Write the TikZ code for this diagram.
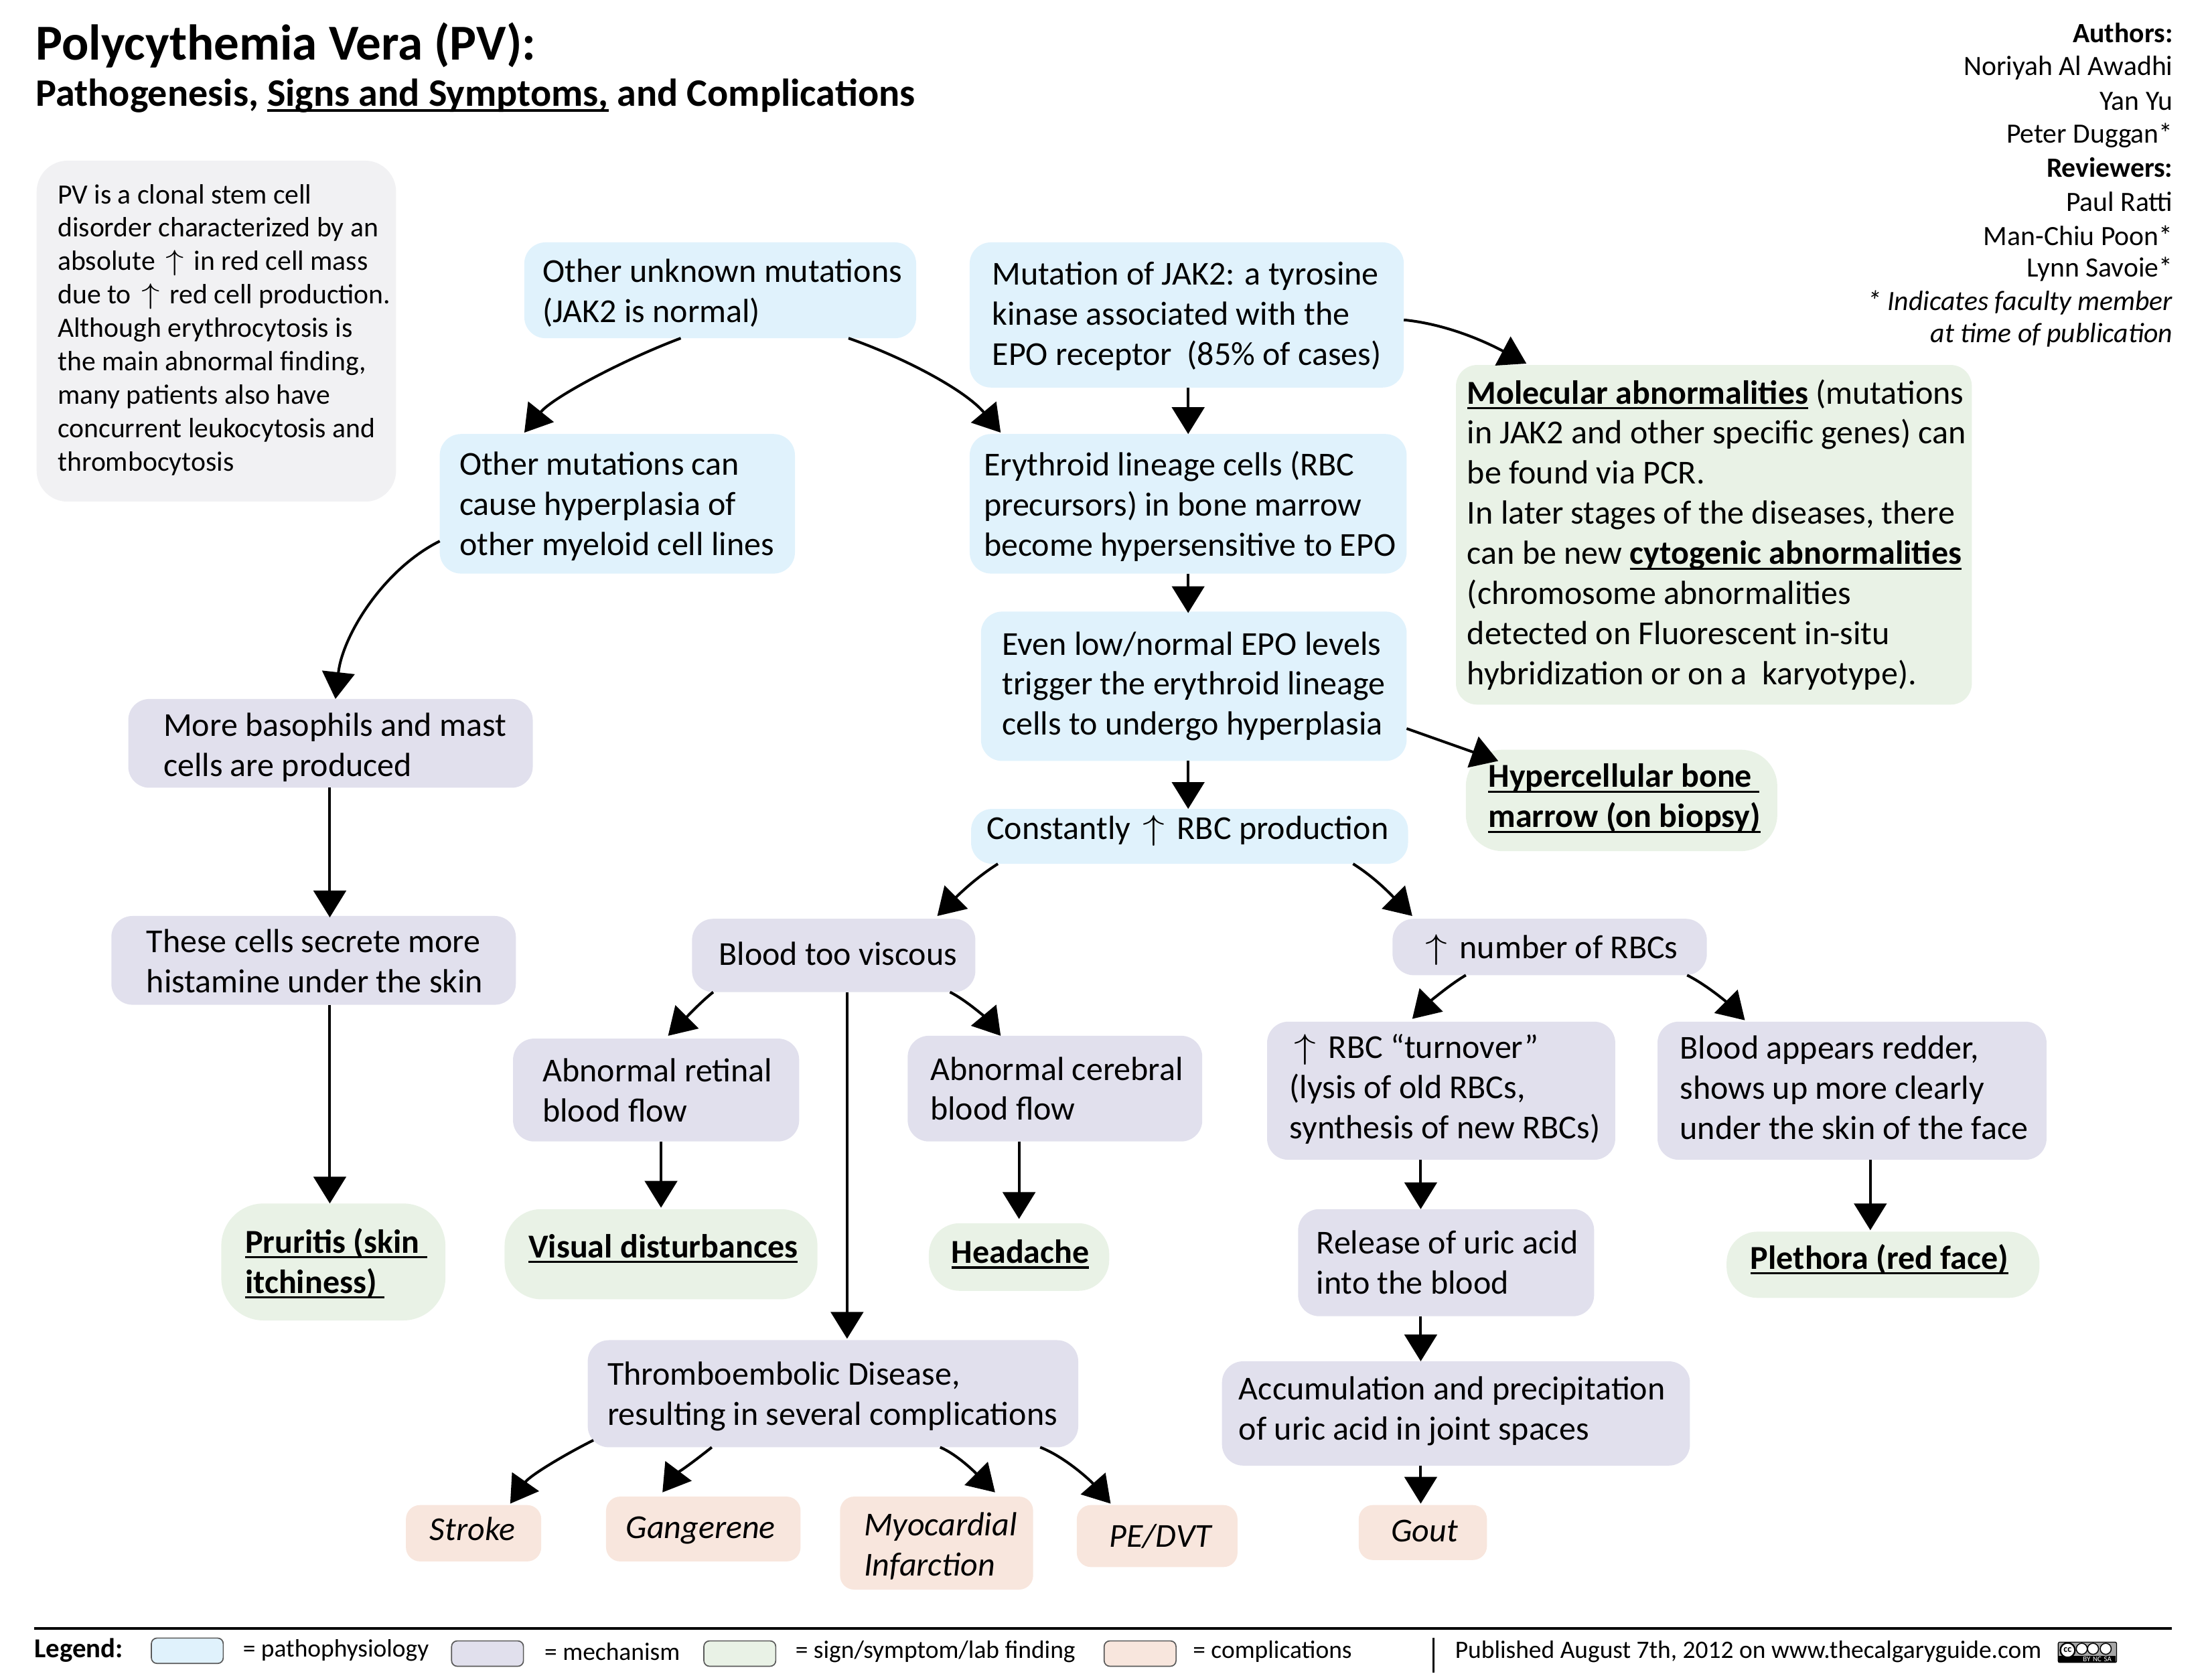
\documentclass[tikz,border=0pt]{standalone}
\usepackage{fontspec}
\setmainfont{Carlito}
\usetikzlibrary{arrows.meta,calc}
\definecolor{pblue}{HTML}{E0F2FC}
\definecolor{ppurple}{HTML}{E1E0ED}
\definecolor{pgreen}{HTML}{E9F2E6}
\definecolor{ppink}{HTML}{F8E6DD}
\definecolor{pgrey}{HTML}{F1F1F3}
\newcommand{\up}{\hspace{0.14em}\scalebox{1.3}[1.02]{\(\uparrow\)}\hspace{0.14em}}
\newsavebox{\ulbox}
\newcommand{\ub}[1]{\sbox{\ulbox}{\textbf{#1}}\leavevmode\rlap{\rule[-1.9pt]{\wd\ulbox}{0.75pt}}\usebox{\ulbox}}
\newcommand{\tup}[1]{\par\vspace*{#1pt}}
\newcommand{\tdn}[1]{\vspace*{#1pt}}
\newcommand{\bx}[8]{% name x0 y0 x1 y1 textx style text
  \pgfmathsetlengthmacro{\bw}{(#4-#2)*0.5pt}%
  \pgfmathsetlengthmacro{\bh}{(#5-#3)*0.5pt}%
  \pgfmathsetlengthmacro{\bp}{(#6-#2)*0.5pt}%
  \pgfmathsetlengthmacro{\bt}{(#4-#6)*0.5pt}%
  \node[anchor=north west,draw=none,inner ysep=0pt,inner xsep=0pt,outer sep=0pt,
    minimum width=\bw,minimum height=\bh,#7] (#1) at (#2,#3)
    {\hspace*{\bp}\makebox[\bt][l]{\begin{minipage}[c]{\dimexpr\bt+40pt\relax}\raggedright #8\end{minipage}}};}
\tikzset{
  x=0.5pt,y=-0.5pt,
  main/.style={rounded corners=7.5pt,font=\fontsize{11.88}{14.25}\selectfont},
  blue/.style={main,fill=pblue},
  purple/.style={main,fill=ppurple},
  green/.style={main,fill=pgreen},
  pink/.style={main,fill=ppink,font=\fontsize{11.88}{14.25}\selectfont\itshape,rounded corners=5pt},
  arr/.style={-{Triangle[length=9.5pt,width=11.5pt]},line width=0.95pt,black},
  auth/.style={anchor=east,inner sep=0pt,font=\fontsize{9.9}{11.85}\selectfont},
  leg/.style={anchor=north west,rounded corners=2pt,draw=black!65,line width=0.4pt,minimum width=25.5pt,minimum height=9pt,inner sep=0pt},
  legt/.style={anchor=west,inner sep=0pt,font=\fontsize{8.9}{10}\selectfont},
}
\begin{document}
\begin{tikzpicture}
\useasboundingbox (0,0) rectangle (1568,1192);
% titles
\node[anchor=west,inner sep=0pt,font=\fontsize{17.85}{20}\selectfont\bfseries] (title) at (25,32) {Polycythemia Vera (PV):};
\node[anchor=west,inner sep=0pt,font=\fontsize{13.8}{16}\selectfont\bfseries] (subtitle) at (25,68) {Pathogenesis, \ub{Signs and Symptoms,} and Complications};
% authors
\node[auth] (a1) at (1542,23.5) {\textbf{Authors:}};
\node[auth] (a2) at (1542,48) {Noriyah Al Awadhi};
\node[auth] (a3) at (1542,72) {Yan Yu};
\node[auth] (a4) at (1542,96) {Peter Duggan*};
\node[auth] (a5) at (1542,119) {\textbf{Reviewers:}};
\node[auth] (a6) at (1542,143) {Paul Ratti};
\node[auth] (a7) at (1542,167) {Man-Chiu Poon*};
\node[auth] (a8) at (1542,191) {Lynn Savoie*};
\node[auth] (a9) at (1542,215) {\textit{* Indicates faculty member}};
\node[auth] (a10) at (1542,238) {\textit{at time of publication}};
% boxes
\bx{pv}{26}{114}{281}{356}{41}{main,fill=pgrey,rounded corners=11pt,font=\fontsize{9.9}{11.85}\selectfont}{PV is a clonal stem cell\\disorder characterized by an\\absolute \up{} in red cell mass\\due to \up{} red cell production.\\Although erythrocytosis is\\the main abnormal finding,\\many patients also have\\concurrent leukocytosis and\\thrombocytosis\tup{1}}
\bx{unk}{372}{172}{650}{240}{385}{blue}{\tdn{2}Other unknown mutations\\(JAK2 is normal)}
\bx{jak}{688}{172}{996}{275}{704}{blue}{\tdn{1}Mutation of JAK2: a tyrosine\\kinase associated with the\\EPO receptor~~(85\% of cases)}
\bx{oth}{312}{308}{564}{407}{326}{blue}{\tdn{2}Other mutations can\\cause hyperplasia of\\other myeloid cell lines}
\bx{ery}{688}{308}{998}{407}{698}{blue}{\tdn{2}Erythroid lineage cells (RBC\\precursors) in bone marrow\\become hypersensitive to EPO}
\bx{eve}{696}{434}{998}{540}{711}{blue}{Even low/normal EPO levels\\trigger the erythroid lineage\\cells to undergo hyperplasia}
\bx{mol}{1033}{259}{1399}{500}{1041}{green}{\ub{Molecular abnormalities} (mutations\\in JAK2 and other specific genes) can\\be found via PCR.\\In later stages of the diseases, there\\can be new \ub{cytogenic abnormalities}\\(chromosome abnormalities\\detected on Fluorescent in-situ\\hybridization or on a~~karyotype).}
\bx{hyp}{1040}{532}{1261}{604}{1056}{green,rounded corners=13pt}{\ub{Hypercellular bone~}\\\ub{marrow (on biopsy)}\tup{1.5}}
\bx{con}{689}{574}{999}{613}{700}{blue}{Constantly \up{} RBC production\tup{4}}
\bx{mor}{91}{496}{378}{559}{116}{purple}{\tdn{3}More basophils and mast\\cells are produced}
\bx{the}{79}{650}{366}{713}{104}{purple}{\tdn{0.5}These cells secrete more\\histamine under the skin}
\bx{pru}{157}{854}{316}{937}{174}{green,rounded corners=15pt}{\tdn{1}\ub{Pruritis (skin~}\\\ub{itchiness)~}}
\bx{blo}{491}{652}{692}{704}{510}{purple}{Blood too viscous\tup{1}}
\bx{num}{988}{652}{1211}{692}{1008}{purple}{\tdn{2}\up{} number of RBCs}
\bx{ret}{364}{737}{567}{810}{385}{purple}{Abnormal retinal\\blood flow}
\bx{cer}{644}{735}{853}{810}{660}{purple}{Abnormal cerebral\\blood flow}
\bx{tur}{899}{725}{1146}{823}{915}{purple}{\up{} RBC “turnover”\\(lysis of old RBCs,\\synthesis of new RBCs)\tup{1}}
\bx{red}{1176}{725}{1452}{823}{1192}{purple}{Blood appears redder,\\shows up more clearly\\under the skin of the face\tup{2}}
\bx{vis}{358}{858}{580}{922}{375}{green,rounded corners=13pt}{\ub{Visual disturbances}\tup{4}}
\bx{hea}{659}{868}{787}{916}{675}{green,rounded corners=11pt}{\ub{Headache}\tup{2}}
\bx{ple}{1225}{874}{1447}{921}{1242}{green,rounded corners=11pt}{\ub{Plethora (red face)}\tup{4}}
\bx{rel}{921}{858}{1131}{934}{934}{purple}{Release of uric acid\\into the blood}
\bx{thr}{417}{951}{765}{1027}{431}{purple}{\tdn{2}Thromboembolic Disease,\\resulting in several complications}
\bx{acc}{867}{966}{1199}{1040}{879}{purple}{Accumulation and precipitation\\of uric acid in joint spaces\tup{1.5}}
\bx{sto}{288}{1068}{384}{1108}{305}{pink}{Stroke\tup{3}}
\bx{gan}{430}{1062}{568}{1108}{444}{pink}{\tdn{1}Gangerene}
\bx{myo}{596}{1062}{733}{1128}{613}{pink}{\tdn{2}Myocardial\\Infarction}
\bx{pe}{764}{1068}{878}{1112}{787}{pink}{PE/DVT}
\bx{gou}{964}{1068}{1055}{1107}{987}{pink}{Gout\tup{1}}
% connectors
\draw[arr] ($(unk.south west)+(111,0)$) .. controls +(-40,15) and +(20,-25) .. ($(oth.north west)+(60,-1)$);
\draw[arr] ($(unk.south west)+(230,0)$) .. controls +(40,14) and +(-25,-30) .. ($(ery.north west)+(22,-1)$);
\draw[arr] ($(jak.south west)+(155,0)$) -- ($(ery.north west)+(155,0)$);
\draw[arr] ($(ery.south west)+(155,0)$) -- ($(eve.north west)+(147,1)$);
\draw[arr] ($(eve.south west)+(147,0)$) -- ($(con.north west)+(154,0)$);
\draw[arr] ($(jak.south east)+(0,-48)$) .. controls +(30,3) and +(-30,-16) .. ($(mol.north west)+(50,-1)$);
\draw[arr] ($(eve.south east)+(0,-23)$) -- ($(hyp.north west)+(23,8)$);
\draw[arr] ($(oth.south west)+(0,-23)$) .. controls +(-40,20) and +(5,-45) .. ($(mor.north west)+(147,0)$);
\draw[arr] ($(mor.south west)+(143,0)$) -- ($(the.north west)+(155,1)$);
\draw[arr] ($(the.south west)+(155,0)$) -- ($(pru.north west)+(77,0)$);
\draw[arr] ($(con.south west)+(19,0)$) .. controls +(-16,10) and +(14,-14) .. ($(blo.north west)+(174,-2)$);
\draw[arr] ($(con.south east)+(-39,0)$) .. controls +(16,10) and +(-14,-14) .. ($(num.north west)+(14,-2)$);
\draw[arr] ($(blo.south west)+(15,0)$) .. controls +(-10,8) and +(10,-10) .. ($(ret.north west)+(110,-2)$);
\draw[arr] ($(blo.south east)+(-18,0)$) .. controls +(12,6) and +(-10,-12) .. ($(cer.north west)+(66,0)$);
\draw[arr] ($(blo.south west)+(110,0)$) -- ($(thr.north west)+(184,-1)$);
\draw[arr] ($(ret.south west)+(105,0)$) -- ($(vis.north west)+(111,-1)$);
\draw[arr] ($(cer.south west)+(79,0)$) -- ($(hea.north west)+(64,-3)$);
\draw[arr] ($(num.south west)+(52,0)$) .. controls +(-12,7) and +(10,-10) .. ($(tur.north west)+(103,-2)$);
\draw[arr] ($(num.south east)+(-14,0)$) .. controls +(14,7) and +(-12,-12) .. ($(red.north west)+(62,-1)$);
\draw[arr] ($(tur.south west)+(109,0)$) -- ($(rel.north west)+(87,0)$);
\draw[arr] ($(rel.south west)+(87,0)$) -- ($(acc.north west)+(141,0)$);
\draw[arr] ($(acc.south west)+(141,0)$) -- ($(gou.north west)+(44,-1)$);
\draw[arr] ($(red.south west)+(151,0)$) -- ($(ple.north west)+(102,-1)$);
\draw[arr] ($(thr.south west)+(4,-5)$) .. controls +(-20,10) and +(14,-20) .. ($(sto.north west)+(74,-1)$);
\draw[arr] ($(thr.south west)+(88,0)$) .. controls +(-10,8) and +(9,-12) .. ($(gan.north west)+(40,-3)$);
\draw[arr] ($(thr.south west)+(250,0)$) .. controls +(12,5) and +(-14,-14) .. ($(myo.north west)+(110,-3)$);
\draw[arr] ($(thr.south west)+(321,0)$) .. controls +(18,7) and +(-14,-16) .. ($(pe.north west)+(24,-1)$);
% legend
\coordinate (ll) at (24,1155.5);
\coordinate (lr) at (1541,1155.5);
\draw[line width=0.85pt] (ll) -- (lr);
\node[legt,font=\fontsize{9.7}{11}\selectfont\bfseries] (lg) at (24,1171) {Legend:};
\node[leg,fill=pblue] (l1) at (107,1162) {};
\node[legt] (t1) at (172,1171) {= pathophysiology};
\node[leg,fill=ppurple] (l2) at (320,1164) {};
\node[legt] (t2) at (386,1172) {= mechanism};
\node[leg,fill=pgreen] (l3) at (499,1164) {};
\node[legt] (t3) at (564,1172) {= sign/symptom/lab finding};
\node[leg,fill=ppink] (l4) at (783,1164) {};
\node[legt] (t4) at (846,1172) {= complications};
\coordinate (v1) at (1017,1162);
\coordinate (v2) at (1017,1187);
\draw[line width=0.6pt] (v1) -- (v2);
\node[legt,font=\fontsize{8.9}{11}\selectfont] (pub) at (1032,1172) {Published August 7th, 2012 on www.thecalgaryguide.com};
% licence badge
\node[anchor=north west,fill=black!35,draw=black,line width=0.3pt,minimum width=20.7pt,minimum height=7.2pt,inner sep=0pt,rounded corners=0.5pt] (cc) at (1460,1165) {};
\fill[black] (1460,1175) rectangle (1501,1179.5);
\node[circle,fill=white,draw=black,line width=0.55pt,minimum size=5.2pt,inner sep=0pt,font=\fontsize{3.4}{3.4}\selectfont\bfseries] (c0) at (1467,1171) {cc};
\foreach \cx/\nm in {1477/c1,1485/c2,1494/c3}{
  \node[circle,fill=white,draw=black,line width=0.35pt,minimum size=3.9pt,inner sep=0pt] (\nm) at (\cx,1170) {};
}
\node[inner sep=0pt,text=white,font=\fontsize{2.6}{3}\selectfont] (c4) at (1488,1177.3) {BY\,\,NC\,\,SA};
\end{tikzpicture}
\end{document}
